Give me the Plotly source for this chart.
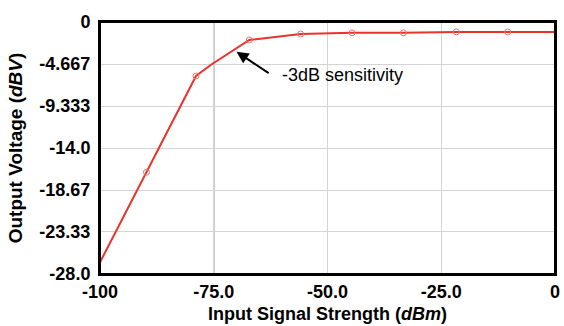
import plotly.graph_objects as go

# Data
x_line = [-100, -89.8, -78.9, -75.6, -67.2, -55.9, -44.6, -33.3, -21.7, -10.4, 0]
y_line = [-26.7, -16.7, -6.0, -4.75, -2.0, -1.33, -1.2, -1.2, -1.1, -1.1, -1.1]
x_marks = [-89.8, -78.9, -67.2, -55.9, -44.6, -33.3, -21.7, -10.4]
y_marks = [-16.7, -6.0, -2.0, -1.33, -1.2, -1.2, -1.1, -1.1]

x_ticks = [-100, -75, -50, -25, 0]
x_tick_text = ["-100", "-75.0", "-50.0", "-25.0", "0"]
y_ticks = [0, -4.667, -9.333, -14.0, -18.67, -23.33, -28.0]
y_tick_text = ["0", "-4.667", "-9.333", "-14.0", "-18.67", "-23.33", "-28.0"]

highlight_grid_x = -75
arrow_tip = (-70.0, -3.3)
arrow_tail = (-62.6, -5.8)
label_pos = (-60.4, -5.9)
label_text = "-3dB sensitivity"

red = "#e8332b"
font_family = "Liberation Sans"

fig = go.Figure()
fig.add_trace(go.Scatter(x=x_line, y=y_line, mode="lines",
                         line=dict(color=red, width=2), hoverinfo="skip",
                         showlegend=False))
fig.add_trace(go.Scatter(x=x_marks, y=y_marks, mode="markers",
                         marker=dict(symbol="circle-open", size=6,
                                     color="#f07070", line=dict(width=1)),
                         showlegend=False))

fig.add_shape(type="line", xref="x", yref="paper", x0=highlight_grid_x, x1=highlight_grid_x,
              y0=0, y1=1, line=dict(color="#9a9a9a", width=1.5), layer="below")
# plot frame
fig.add_shape(type="rect", xref="paper", yref="paper", x0=0, x1=1, y0=0, y1=1,
              line=dict(color="black", width=2), fillcolor="rgba(0,0,0,0)", layer="above")

fig.add_annotation(x=arrow_tip[0], y=arrow_tip[1], ax=arrow_tail[0], ay=arrow_tail[1],
                   axref="x", ayref="y", text="", showarrow=True,
                   arrowhead=2, arrowsize=1.2, arrowwidth=2, arrowcolor="black")
fig.add_annotation(x=label_pos[0], y=label_pos[1], text=label_text, showarrow=False,
                   xanchor="left", yanchor="middle",
                   font=dict(family=font_family, size=18, color="black"))

fig.update_layout(
    width=564, height=326,
    margin=dict(l=100, r=4, t=22, b=52),
    paper_bgcolor="white", plot_bgcolor="white",
    font=dict(family=font_family, color="black"),
    xaxis=dict(range=[-100, 0], tickvals=x_ticks, ticktext=x_tick_text,
               tickfont=dict(family=font_family, size=18, weight=700),
               showgrid=True, gridcolor="#d4d4d4", gridwidth=1,
               showline=True, linecolor="black", linewidth=2, mirror=True,
               zeroline=False, ticks="",
               title=dict(text="Input Signal Strength (<i>dBm</i>)",
                          font=dict(family=font_family, size=18, weight=700), standoff=7)),
    yaxis=dict(range=[-28, 0], tickvals=y_ticks, ticktext=y_tick_text,
               tickfont=dict(family=font_family, size=18, weight=700),
               showgrid=True, gridcolor="#d4d4d4", gridwidth=1,
               showline=True, linecolor="black", linewidth=2, mirror=True,
               zeroline=False, ticks="", ticklabelstandoff=4,
               title=dict(text="Output Voltage (<i>dBV</i>)",
                          font=dict(family=font_family, size=19, weight=700), standoff=12)),
)

fig.write_html("out.html", config={"displayModeBar": False},
               post_script="document.body.style.margin='0';document.body.style.overflow='hidden';")
